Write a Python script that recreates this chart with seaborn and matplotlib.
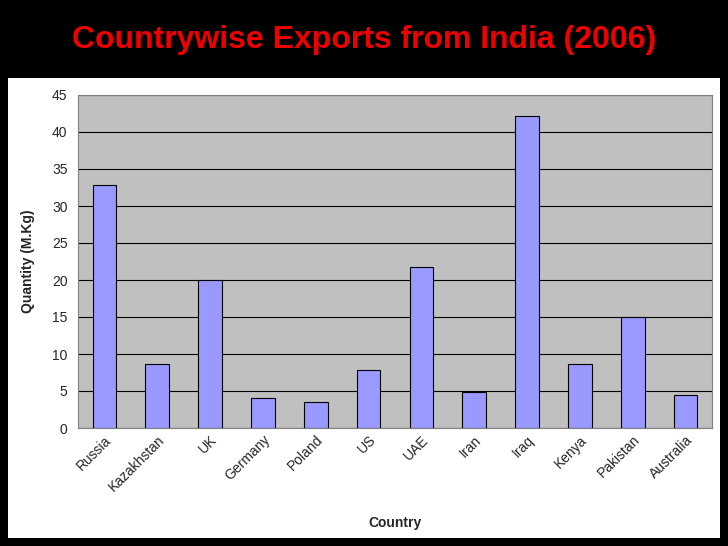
import matplotlib
matplotlib.use("Agg")
import matplotlib.pyplot as plt
import matplotlib.patches as mpatches
import seaborn as sns
import pandas as pd

countries = ["Russia", "Kazakhstan", "UK", "Germany", "Poland", "US", "UAE",
             "Iran", "Iraq", "Kenya", "Pakistan", "Australia"]
quantity = [32.8, 8.6, 20.0, 4.1, 3.5, 7.9, 21.8, 4.9, 42.2, 8.6, 15.0, 4.4]

df = pd.DataFrame({"Country": countries, "Quantity": quantity})

sns.set_style("white")
plt.rcParams['font.family'] = ['Liberation Sans', 'DejaVu Sans']

fig = plt.figure(figsize=(7.28, 5.46), dpi=100, facecolor="black")
# white panel behind chart
fig.patches.append(mpatches.Rectangle((8/728, 8/546), 712/728, 460/546,
                                      transform=fig.transFigure, facecolor="white",
                                      edgecolor="none", zorder=-5))
fig.text(364/728, 1 - 40/546, "Countrywise Exports from India (2006)", color="#EE0000",
         fontsize=23, fontweight="bold", ha="center", va="center")

ax = fig.add_axes([78/728, 1 - 428/546, 634/728, 333/546])
ax.set_facecolor("#C0C0C0")
sns.barplot(data=df, x="Country", y="Quantity", color="#9999FF", edgecolor="black",
            linewidth=0.8, width=0.45, saturation=1, ax=ax, zorder=3)
ax.set_ylim(0, 45)
ax.set_yticks(range(0, 46, 5))
ax.yaxis.grid(True, color="black", linewidth=0.8, zorder=0)
ax.set_axisbelow(True)
for s in ax.spines.values():
    s.set_color("#808080")
ax.tick_params(axis="both", labelsize=10, length=4, color="black")
ax.tick_params(axis="x", length=0)
plt.setp(ax.get_xticklabels(), rotation=45, ha="right", rotation_mode="anchor")
ax.set_xlabel("Country", fontsize=10, fontweight="bold", labelpad=16)
ax.set_ylabel("Quantity (M.Kg)", fontsize=10, fontweight="bold", labelpad=12)

fig.savefig("out.png", facecolor="black")
